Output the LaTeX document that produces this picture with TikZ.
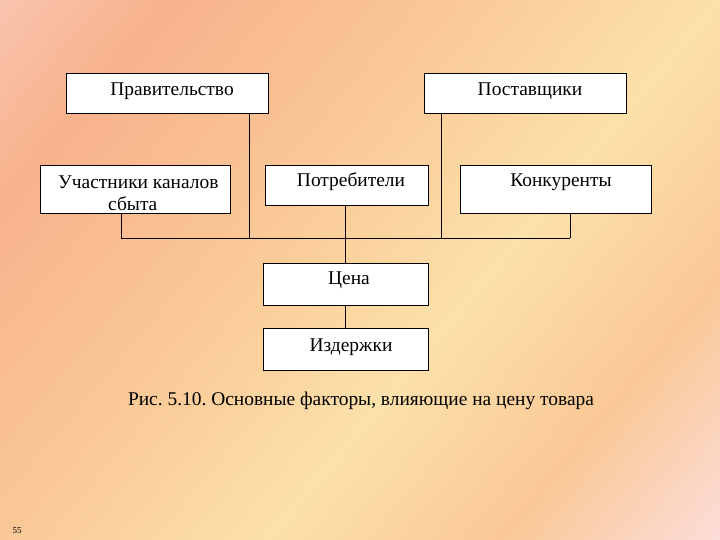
\documentclass[tikz,border=0pt]{standalone}
\usepackage{fontspec}
\setmainfont{Liberation Serif}
\frenchspacing
\definecolor{c1}{RGB}{250,222,222}
\definecolor{c2}{RGB}{248,178,140}
\definecolor{c3}{RGB}{250,200,150}
\definecolor{c4}{RGB}{252,225,170}
\definecolor{c5}{RGB}{250,200,150}
\definecolor{c6}{RGB}{252,228,240}
\pgfdeclarehorizontalshading{bgsh}{100bp}{color(0bp)=(c1); color(25bp)=(c2); color(42bp)=(c3); color(58bp)=(c4); color(72bp)=(c5); color(90bp)=(c6); color(100bp)=(c6)}
\begin{document}
\begin{tikzpicture}[x=1bp,y=-1bp,
  bx/.style={draw=black,fill=white,line width=0.7bp},
  tx/.style={font=\fontsize{19.5}{22}\selectfont,inner sep=0pt},
  ln/.style={line width=0.7bp}]
\useasboundingbox (0,0) rectangle (720,540);
\shade[shading=bgsh,shading angle=-40] (0,0) rectangle (720,540);
\draw[bx] (66,73) rectangle (268,113);
\draw[bx] (424,73) rectangle (626,113);
\draw[bx] (40,165) rectangle (230,213);
\draw[bx] (265,165) rectangle (428,205);
\draw[bx] (460,165) rectangle (651,213);
\draw[bx] (263,263) rectangle (428,305);
\draw[bx] (263,328) rectangle (428,370);
\node[tx] (t1) at (172,91) {Правительство};
\node[tx] (t2) at (530,91) {Поставщики};
\node[tx,anchor=west] (t3) at (58,182) {Участники каналов};
\node[tx,anchor=west] (t3b) at (108,204) {сбыта};
\node[tx] (t4) at (351,182) {Потребители};
\node[tx] (t5) at (561,182) {Конкуренты};
\node[tx] (t6) at (349,280) {Цена};
\node[tx] (t7) at (351,347) {Издержки};
\node[tx] (cap) at (361,401) {Рис. 5.10. Основные факторы, влияющие на цену товара};
\node[inner sep=0pt,font=\fontsize{9}{10}\selectfont] (pg) at (17,531) {55};
\coordinate (b1) at (121,238);
\coordinate (b2) at (570,238);
\draw[ln] (b1) -- (b2);
\draw[ln] (121,213) -- (b1);
\draw[ln] (570,213) -- (b2);
\draw[ln] (249,113) -- (249,238);
\draw[ln] (441,113) -- (441,238);
\draw[ln] (345,205) -- (345,263);
\draw[ln] (345,305) -- (345,328);
\end{tikzpicture}
\end{document}
